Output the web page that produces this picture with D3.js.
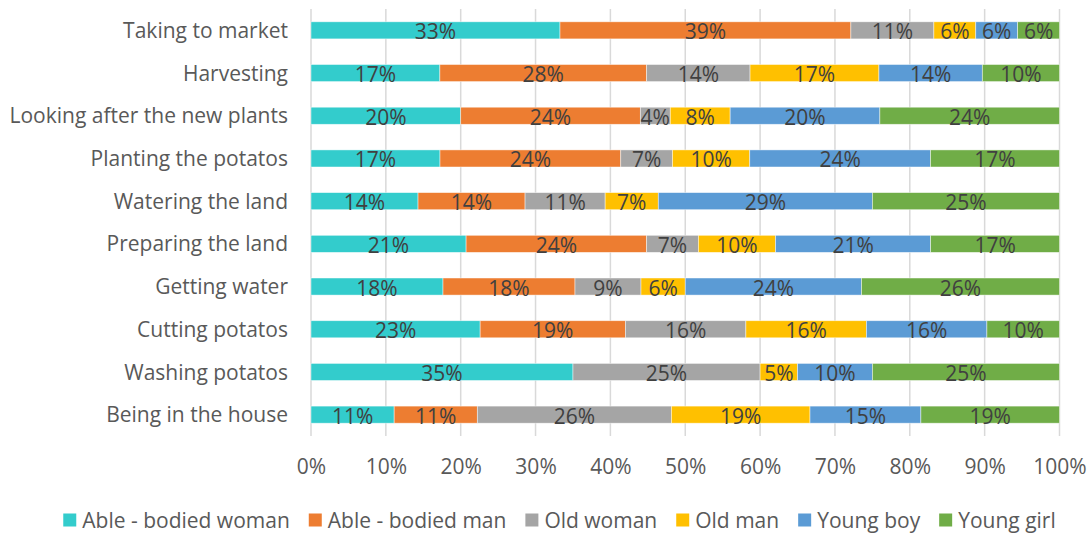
<!DOCTYPE html>
<html>
<head>
<meta charset="utf-8">
<script src="https://cdn.jsdelivr.net/npm/d3@7"></script>
<style>
  html, body { margin: 0; padding: 0; background: #ffffff; }
  svg { display: block; font-family: "Open Sans", Lato, sans-serif; }
</style>
</head>
<body>
<svg id="chart" width="1092" height="533"></svg>
<script>
// Tasks, listed top to bottom
const tasks = [
  "Taking to market ",
  "Harvesting",
  "Looking after the new plants",
  "Planting the potatos",
  "Watering the land",
  "Preparing the land",
  "Getting water ",
  "Cutting potatos",
  "Washing potatos",
  "Being in the house "
];

// Household members (stack order, left to right)
const groups = ["Able - bodied woman", "Able - bodied man", "Old woman", "Old man", "Young boy", "Young girl"];
const groupColors = ["#33CCCC", "#ED7D31", "#A5A5A5", "#FFC000", "#5B9BD5", "#70AD47"];

// Share of each task done by each member, in percent (one array per member, task order as above)
const ableWoman = [33.3, 17.2, 20.0, 17.2, 14.3, 20.7, 17.6, 22.6, 35.0, 11.1];
const ableMan   = [38.9, 27.6, 24.0, 24.1, 14.3, 24.1, 17.6, 19.4,  0.0, 11.1];
const oldWoman  = [11.1, 13.8,  4.0,  6.9, 10.7,  6.9,  8.8, 16.1, 25.0, 25.9];
const oldMan    = [ 5.6, 17.2,  8.0, 10.3,  7.1, 10.3,  5.9, 16.1,  5.0, 18.5];
const youngBoy  = [ 5.6, 13.8, 20.0, 24.1, 28.6, 20.7, 23.5, 16.1, 10.0, 14.8];
const youngGirl = [ 5.6, 10.3, 24.0, 17.2, 25.0, 17.2, 26.4,  9.7, 25.0, 18.5];

const xTicks = [0, 0.1, 0.2, 0.3, 0.4, 0.5, 0.6, 0.7, 0.8, 0.9, 1.0];

const seriesValues = [ableWoman, ableMan, oldWoman, oldMan, youngBoy, youngGirl];
const rows = tasks.map((t, i) => {
  const r = { task: t };
  groups.forEach((g, j) => { r[g] = seriesValues[j][i]; });
  return r;
});

const FONT = "'Open Sans', Lato, sans-serif";
const FONT_SIZE = 21;
const svg = d3.select("#chart");
const plot = { left: 311, right: 1059.5, top: 9, bottom: 436 };

const x = d3.scaleLinear().domain([0, 1]).range([plot.left, plot.right]);
const y = d3.scaleBand().domain(tasks).range([plot.top, plot.bottom])
  .paddingInner(0.6).paddingOuter(0.3);
const color = d3.scaleOrdinal().domain(groups).range(groupColors);

const stacked = d3.stack().keys(groups).offset(d3.stackOffsetExpand)(rows);

// Vertical gridlines
svg.append("g")
  .selectAll("line")
  .data(xTicks)
  .join("line")
  .attr("x1", d => x(d)).attr("x2", d => x(d))
  .attr("y1", plot.top).attr("y2", plot.bottom)
  .attr("stroke", "#D9D9D9")
  .attr("stroke-width", 1.5);

// Stacked bars
const layers = svg.append("g")
  .selectAll("g")
  .data(stacked)
  .join("g")
  .attr("fill", d => color(d.key));

layers.selectAll("rect")
  .data(d => d.map(p => ({ key: d.key, p })))
  .join("rect")
  .attr("x", d => x(d.p[0]))
  .attr("y", d => y(d.p.data.task))
  .attr("width", d => Math.max(0, x(d.p[1]) - x(d.p[0])))
  .attr("height", y.bandwidth())
  .attr("stroke", "#ffffff")
  .attr("stroke-width", 0.75)
  .attr("stroke-opacity", 0.6);

// Value labels, centred in each segment
layers.selectAll("text")
  .data(d => d.map(p => ({ key: d.key, p })).filter(d => d.p.data[d.key] > 0))
  .join("text")
  .attr("x", d => (x(d.p[0]) + x(d.p[1])) / 2)
  .attr("y", d => y(d.p.data.task) + y.bandwidth() / 2)
  .attr("dy", "0.43em")
  .attr("text-anchor", "middle")
  .attr("fill", "#404040")
  .attr("font-size", FONT_SIZE)
  .text(d => Math.round(d.p.data[d.key]) + "%");

// Category axis
const yAxis = svg.append("g")
  .attr("transform", `translate(${plot.left},0)`)
  .call(d3.axisLeft(y).tickSize(0).tickPadding(23));
yAxis.select(".domain").remove();
yAxis.selectAll("text")
  .attr("fill", "#595959")
  .attr("font-size", FONT_SIZE)
  .attr("font-family", FONT)
  .attr("dy", "0.36em");

// Percentage axis
const xAxis = svg.append("g")
  .attr("transform", `translate(0,${plot.bottom})`)
  .call(d3.axisBottom(x).tickValues(xTicks).tickFormat(d3.format(".0%")).tickSize(0));
xAxis.select(".domain").remove();
xAxis.selectAll("text")
  .attr("fill", "#595959")
  .attr("font-size", FONT_SIZE)
  .attr("font-family", FONT)
  .attr("dy", "0.36em")
  .attr("y", 30);

// Legend, centred under the plot
const legend = svg.append("g");
const items = legend.selectAll("g")
  .data(groups)
  .join("g");
items.append("rect")
  .attr("width", 13).attr("height", 13)
  .attr("y", 513.5)
  .attr("fill", d => color(d));
items.append("text")
  .attr("x", 19)
  .attr("y", 520)
  .attr("dy", "0.36em")
  .attr("fill", "#595959")
  .attr("font-size", FONT_SIZE)
  .text(d => d);

let cursor = 0;
const offsets = [];
items.each(function () {
  offsets.push(cursor);
  const w = d3.select(this).select("text").node().getComputedTextLength();
  cursor += 19 + w + 19;
});
const totalWidth = cursor - 19;
const startX = 559.5 - totalWidth / 2;
items.attr("transform", (d, i) => `translate(${startX + offsets[i]},0)`);
</script>
</body>
</html>
